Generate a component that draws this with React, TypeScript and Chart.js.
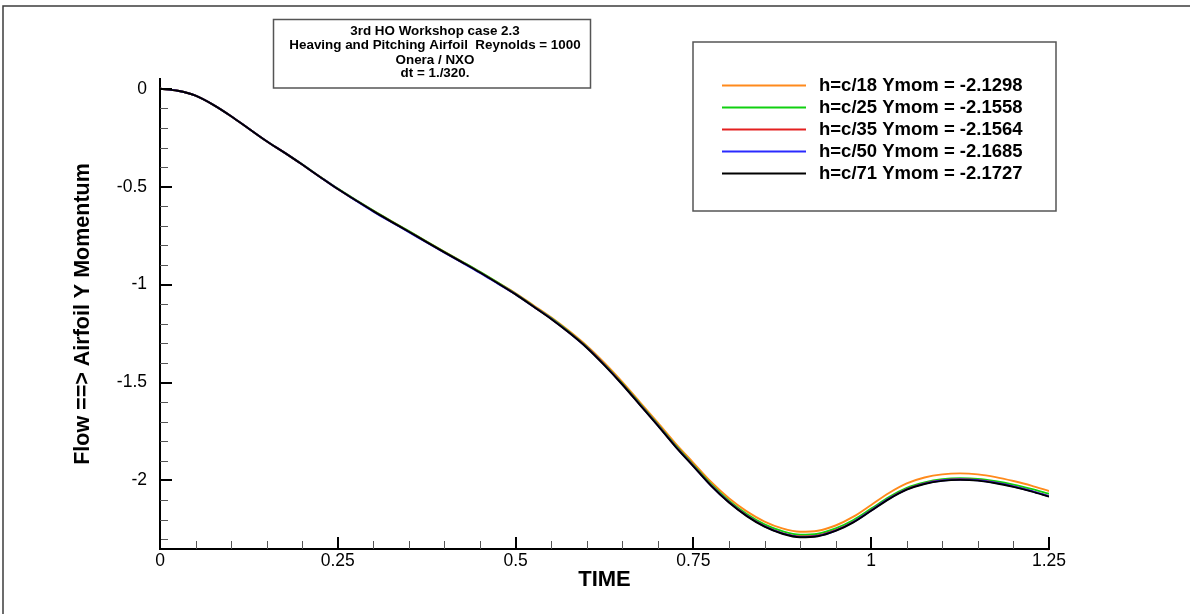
import { useEffect, useRef } from "react";
import { Chart, registerables } from "chart.js";

Chart.register(...registerables);

// ---------- data ----------
const TIME = [
  0, 0.025, 0.05, 0.075, 0.1, 0.125, 0.15, 0.175, 0.2, 0.225, 0.25, 0.275, 0.3, 0.325, 0.35, 0.375,
  0.4, 0.425, 0.45, 0.475, 0.5, 0.525, 0.55, 0.575, 0.6, 0.625, 0.65, 0.675, 0.7, 0.725, 0.75,
  0.775, 0.8, 0.825, 0.85, 0.875, 0.9, 0.925, 0.95, 0.975, 1, 1.025, 1.05, 1.075, 1.1, 1.125,
  1.15, 1.175, 1.2, 1.225, 1.25,
];

const H18 = [
  0, -0.01, -0.035, -0.082, -0.14, -0.204, -0.268, -0.326, -0.387, -0.449, -0.511, -0.568, -0.623,
  -0.676, -0.728, -0.781, -0.833, -0.884, -0.936, -0.99,
  -1.044, -1.105, -1.167, -1.236, -1.312, -1.4, -1.497, -1.601, -1.705, -1.812, -1.91, -2.008,
  -2.091, -2.158, -2.21, -2.245, -2.262, -2.257, -2.23, -2.185, -2.125, -2.064, -2.015, -1.985,
  -1.969, -1.964, -1.969, -1.983, -2.003, -2.026, -2.054,
];

const H25 = [
  0, -0.01, -0.035, -0.082, -0.14, -0.204, -0.268, -0.326, -0.386, -0.449, -0.51, -0.567, -0.622,
  -0.675, -0.727, -0.78, -0.832, -0.883, -0.935, -0.99,
  -1.047, -1.109, -1.171, -1.241, -1.317, -1.407, -1.504, -1.609, -1.713, -1.821, -1.92, -2.019,
  -2.103, -2.171, -2.224, -2.259, -2.277, -2.272, -2.245, -2.202, -2.144, -2.085, -2.038, -2.01,
  -1.994, -1.989, -1.992, -2.004, -2.021, -2.043, -2.068,
];

const H35 = [
  0, -0.01, -0.035, -0.082, -0.14, -0.204, -0.268, -0.326, -0.387, -0.45, -0.512, -0.569, -0.625,
  -0.678, -0.73, -0.783, -0.835, -0.886, -0.938, -0.993,
  -1.049, -1.111, -1.174, -1.244, -1.32, -1.41, -1.508, -1.613, -1.718, -1.826, -1.925, -2.025,
  -2.11, -2.179, -2.233, -2.269, -2.286, -2.281, -2.254, -2.211, -2.152, -2.092, -2.044, -2.015,
  -1.999, -1.994, -1.998, -2.011, -2.03, -2.053, -2.08,
];

const H50 = [
  0, -0.01, -0.035, -0.082, -0.14, -0.204, -0.268, -0.326, -0.387, -0.45, -0.512, -0.57, -0.627,
  -0.68, -0.732, -0.785, -0.837, -0.888, -0.94, -0.995,
  -1.05, -1.112, -1.174, -1.244, -1.321, -1.411, -1.509, -1.614, -1.719, -1.827, -1.927, -2.027,
  -2.111, -2.18, -2.234, -2.27, -2.288, -2.283, -2.256, -2.212, -2.153, -2.093, -2.045, -2.016,
  -2.0, -1.995, -1.999, -2.012, -2.031, -2.054, -2.081,
];

const H71 = [
  0, -0.01, -0.035, -0.082, -0.14, -0.204, -0.268, -0.326, -0.387, -0.45, -0.512, -0.569, -0.625,
  -0.678, -0.73, -0.783, -0.835, -0.886, -0.938, -0.993,
  -1.05, -1.112, -1.175, -1.245, -1.322, -1.412, -1.51, -1.615, -1.72, -1.828, -1.928, -2.028,
  -2.113, -2.182, -2.236, -2.272, -2.29, -2.285, -2.258, -2.214, -2.155, -2.095, -2.047, -2.018,
  -2.002, -1.997, -2.001, -2.014, -2.033, -2.056, -2.083,
];

const SERIES_VALUES = [H18, H25, H35, H50, H71];
const SERIES_LABELS = [
  "h=c/18 Ymom = -2.1298",
  "h=c/25 Ymom = -2.1558",
  "h=c/35 Ymom = -2.1564",
  "h=c/50 Ymom = -2.1685",
  "h=c/71 Ymom = -2.1727",
];
const SERIES_COLORS = ["#ff8a1c", "#10d010", "#e42020", "#2a2aff", "#000000"];

const X_TICKS = [0, 0.25, 0.5, 0.75, 1, 1.25];
const X_MINOR = [0.05, 0.1, 0.15, 0.2, 0.3, 0.35, 0.4, 0.45, 0.55, 0.6, 0.65, 0.7, 0.8, 0.85, 0.9, 0.95, 1.05, 1.1, 1.15, 1.2];
const Y_TICKS = [0, -0.5, -1, -1.5, -2];
const Y_MINOR = [-0.1, -0.2, -0.3, -0.4, -0.6, -0.7, -0.8, -0.9, -1.1, -1.2, -1.3, -1.4, -1.6, -1.7, -1.8, -1.9, -2.1, -2.2, -2.3];

const TITLE_LINES = [
  "3rd HO Workshop case 2.3",
  "Heaving and Pitching Airfoil  Reynolds = 1000",
  "Onera / NXO",
  "dt = 1./320.",
];
const X_TITLE = "TIME";
const Y_TITLE = "Flow ==> Airfoil Y Momentum";

const FONT = "'Liberation Sans', Arial, Helvetica, sans-serif";

// ---------- plugins ----------
const framePlugin = {
  id: "frame",
  beforeDraw(chart: any) {
    const ctx = chart.ctx;
    ctx.save();
    ctx.fillStyle = "#ffffff";
    ctx.fillRect(0, 0, chart.width, chart.height);
    ctx.strokeStyle = "#3c3c3c";
    ctx.lineWidth = 1.5;
    ctx.beginPath();
    ctx.moveTo(3, chart.height);
    ctx.lineTo(3, 6);
    ctx.lineTo(chart.width, 6);
    ctx.stroke();
    ctx.restore();
  },
};

const inwardTicksPlugin = {
  id: "inwardTicks",
  afterDraw(chart: any) {
    const ctx = chart.ctx;
    const xs = chart.scales.x;
    const ys = chart.scales.y;
    const { left, bottom } = chart.chartArea;
    ctx.save();
    ctx.strokeStyle = "#555555";
    ctx.lineWidth = 1;
    ctx.beginPath();
    X_MINOR.forEach((v) => {
      const px = Math.round(xs.getPixelForValue(v)) + 0.5;
      ctx.moveTo(px, bottom);
      ctx.lineTo(px, bottom - 8);
    });
    Y_MINOR.forEach((v) => {
      const py = Math.round(ys.getPixelForValue(v)) + 0.5;
      ctx.moveTo(left, py);
      ctx.lineTo(left + 8, py);
    });
    ctx.stroke();
    ctx.strokeStyle = "#000000";
    ctx.lineWidth = 2;
    ctx.beginPath();
    X_TICKS.forEach((v) => {
      const px = Math.round(xs.getPixelForValue(v));
      ctx.moveTo(px, bottom);
      ctx.lineTo(px, bottom - 12);
    });
    Y_TICKS.forEach((v) => {
      const py = Math.round(ys.getPixelForValue(v));
      ctx.moveTo(left, py);
      ctx.lineTo(left + 12, py);
    });
    ctx.stroke();
    ctx.restore();
  },
};

const titleBoxPlugin = {
  id: "titleBox",
  afterDraw(chart: any) {
    const ctx = chart.ctx;
    ctx.save();
    ctx.fillStyle = "#ffffff";
    ctx.fillRect(273, 19, 318, 69);
    ctx.strokeStyle = "#555555";
    ctx.lineWidth = 1.5;
    ctx.strokeRect(273.5, 19.5, 317, 68.5);
    ctx.fillStyle = "#000000";
    ctx.font = `bold 13.4px ${FONT}`;
    ctx.textAlign = "center";
    ctx.textBaseline = "middle";
    const ys = [31, 45.5, 60, 73];
    TITLE_LINES.forEach((t, i) => ctx.fillText(t, 435, ys[i]));
    ctx.restore();
  },
};

const legendBoxPlugin = {
  id: "legendBox",
  afterDraw(chart: any) {
    const ctx = chart.ctx;
    ctx.save();
    ctx.fillStyle = "#ffffff";
    ctx.fillRect(693, 42, 363, 169);
    ctx.strokeStyle = "#555555";
    ctx.lineWidth = 1.5;
    ctx.strokeRect(693, 42, 363, 169);
    ctx.font = `bold 18.5px ${FONT}`;
    ctx.textAlign = "left";
    ctx.textBaseline = "middle";
    chart.data.datasets.forEach((ds: any, i: number) => {
      const y = 85 + i * 21.9;
      ctx.strokeStyle = ds.borderColor;
      ctx.lineWidth = 1.8;
      ctx.beginPath();
      ctx.moveTo(722, Math.round(y) + 0.5);
      ctx.lineTo(806, Math.round(y) + 0.5);
      ctx.stroke();
      ctx.fillStyle = "#000000";
      ctx.fillText(ds.label, 819, y + 1);
    });
    ctx.restore();
  },
};

export default function App() {
  const canvasRef = useRef<HTMLCanvasElement | null>(null);

  useEffect(() => {
    const canvas = canvasRef.current;
    if (!canvas) return;
    const datasets = SERIES_VALUES.map((vals, i) => ({
      label: SERIES_LABELS[i],
      data: TIME.map((t, j) => ({ x: t, y: vals[j] })),
      borderColor: SERIES_COLORS[i],
      backgroundColor: SERIES_COLORS[i],
      borderWidth: 1.9,
      pointRadius: 0,
      fill: false,
      cubicInterpolationMode: "monotone" as const,
      order: SERIES_VALUES.length - i,
    }));

    const chart = new Chart(canvas, {
      type: "line",
      data: { datasets },
      options: {
        animation: false,
        responsive: false,
        devicePixelRatio: 1,
        layout: { padding: { left: 0, top: 79, right: 141, bottom: 0 } },
        plugins: {
          legend: { display: false },
          tooltip: { enabled: false },
          title: { display: false },
        },
        scales: {
          x: {
            type: "linear",
            min: 0,
            max: 1.25,
            afterFit: (s: any) => {
              s.height = 65;
            },
            afterBuildTicks: (s: any) => {
              s.ticks = X_TICKS.map((v) => ({ value: v }));
            },
            ticks: {
              padding: 2,
              color: "#000",
              font: { family: FONT, size: 17.5 },
              maxRotation: 0,
              callback: (v: any) => String(v),
            },
            grid: { display: true, drawOnChartArea: false, drawTicks: false, color: "rgba(0,0,0,0)" },
            border: { display: true, color: "#000", width: 2 },
            title: {
              display: true,
              text: X_TITLE,
              color: "#000",
              font: { family: FONT, size: 22, weight: "bold" },
              padding: { top: 0, bottom: 21 },
            },
          },
          y: {
            type: "linear",
            min: -2.35,
            max: 0.05,
            afterFit: (s: any) => {
              s.width = 160;
            },
            afterBuildTicks: (s: any) => {
              s.ticks = Y_TICKS.map((v) => ({ value: v }));
            },
            ticks: {
              padding: 13,
              color: "#000",
              font: { family: FONT, size: 17.5 },
              callback: (v: any) => String(v),
            },
            grid: { display: true, drawOnChartArea: false, drawTicks: false, color: "rgba(0,0,0,0)" },
            border: { display: true, color: "#000", width: 2 },
            title: {
              display: true,
              text: Y_TITLE,
              color: "#000",
              font: { family: FONT, size: 21.5, weight: "bold" },
              padding: { top: 70, bottom: 0 },
            },
          },
        },
      },
      plugins: [framePlugin, inwardTicksPlugin, titleBoxPlugin, legendBoxPlugin],
    });

    return () => chart.destroy();
  }, []);

  return (
    <div style={{ position: "fixed", left: 0, top: 0, width: 1190, height: 614, background: "#fff" }}>
      <canvas ref={canvasRef} width={1190} height={614} style={{ display: "block" }} />
    </div>
  );
}
